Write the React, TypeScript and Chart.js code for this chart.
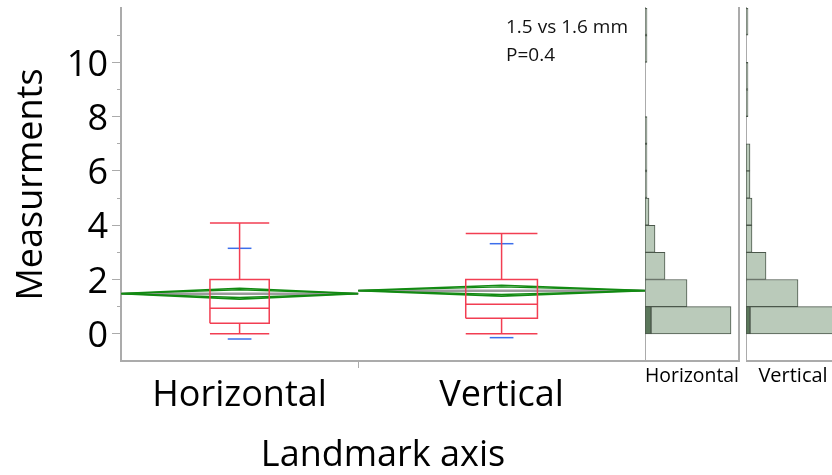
import React, { useEffect, useRef } from 'react';
import { Chart, registerables } from 'chart.js';

Chart.register(...registerables);

// ---------- data ----------
const categories = ['Horizontal', 'Vertical'];
const sampleSizes = [86, 104];
const means = [1.48, 1.59];
const ciLower = [1.28, 1.39];
const ciUpper = [1.68, 1.79];
const stdDevs = [1.67, 1.73];
const q1s = [0.39, 0.57];
const medians = [0.94, 1.09];
const q3s = [2.0, 2.0];
const whiskerLow = [0, 0];
const whiskerHigh = [4.08, 3.7];

const yMajorTicks = [0, 2, 4, 6, 8, 10];
const yMinorTicks = [1, 3, 5, 7, 9, 11];

const binStarts = [0, 1, 2, 3, 4, 5, 6, 7, 8, 9, 10, 11];
const horizontalCounts = [43, 21, 10, 5, 2, 1, 1, 1, 0, 0, 1, 1];
const horizontalSelected = [3, 0, 0, 0, 0, 0, 0, 0, 0, 0, 0, 0];
const verticalCounts = [55, 26, 10, 3, 3, 2, 2, 0, 1, 1, 0, 1];
const verticalSelected = [2, 0, 0, 0, 0, 0, 0, 0, 0, 0, 0, 0];

const annotationLines = ['1.5 vs 1.6 mm', 'P=0.4'];
const xTitle = 'Landmark axis';
const yTitle = 'Measurments';

// ---------- style ----------
const FONT = "'Open Sans', 'Noto Sans', sans-serif";
const AXIS_GREY = '#ababab';
const RED = 'rgb(242,62,82)';
const BLUE = 'rgb(60,110,235)';
const GREEN = 'rgb(18,138,18)';
const MEAN_GREY = 'rgb(155,155,155)';
const HIST_FILL = '#bacaba';
const HIST_DARK = '#5b775b';
const HIST_BORDER = '#4b574b';
const Y_MIN = -1;
const Y_MAX = 12;
const HIST_MAX = 47;

Chart.defaults.font.family = FONT;
Chart.defaults.color = '#000';

const noPad = (axis: any) => {
  axis.paddingTop = 0;
  axis.paddingBottom = 0;
  axis.paddingLeft = 0;
  axis.paddingRight = 0;
};

const annotationPlugin = {
  id: 'annotText',
  afterDatasetsDraw(chart: any) {
    const { ctx, chartArea } = chart;
    ctx.save();
    ctx.font = `19px ${FONT}`;
    ctx.fillStyle = '#111';
    ctx.textBaseline = 'alphabetic';
    ctx.textAlign = 'left';
    annotationLines.forEach((t, i) => {
      ctx.fillText(t, chartArea.right - 139, chartArea.top + 25 + i * 28);
    });
    ctx.restore();
  },
};

function MainChart() {
  const ref = useRef<HTMLCanvasElement>(null);
  useEffect(() => {
    if (!ref.current) return;
    const starts: number[] = [];
    let acc = 0;
    sampleSizes.forEach((n) => {
      starts.push(acc);
      acc += n;
    });
    const total = acc;
    const centers = starts.map((s, i) => s + sampleSizes[i] / 2);

    const seg = (pts: number[][], color: string, width: number, order: number) => ({
      data: pts.map(([x, y]) => ({ x, y })),
      showLine: true,
      borderColor: color,
      backgroundColor: color,
      borderWidth: width,
      pointRadius: 0,
      pointHoverRadius: 0,
      fill: false,
      tension: 0,
      order,
    });

    const datasets: any[] = [];
    categories.forEach((_, i) => {
      const n = sampleSizes[i];
      const x0 = starts[i];
      const x1 = x0 + n;
      const xc = centers[i];
      const bl = xc - n * 0.125;
      const br = xc + n * 0.125;
      const m = means[i];
      const hu = ciUpper[i] - m;
      const hl = m - ciLower[i];
      datasets.push(seg([[x0, m], [x1, m]], MEAN_GREY, 2.5, 5));
      datasets.push(seg([[x0, m], [xc, ciUpper[i]], [x1, m], [xc, ciLower[i]], [x0, m]], GREEN, 1.6, 4));
      datasets.push(seg([[x0, m], [xc, m + hu * 0.707], [x1, m], [xc, m - hl * 0.707], [x0, m]], GREEN, 1.4, 4));
      datasets.push(seg([[bl, q1s[i]], [bl, q3s[i]], [br, q3s[i]], [br, q1s[i]], [bl, q1s[i]]], RED, 1.5, 1));
      datasets.push(seg([[bl, medians[i]], [br, medians[i]]], RED, 1.5, 1));
      datasets.push(seg([[xc, q3s[i]], [xc, whiskerHigh[i]]], RED, 1.5, 1));
      datasets.push(seg([[bl, whiskerHigh[i]], [br, whiskerHigh[i]]], RED, 1.5, 1));
      datasets.push(seg([[xc, q1s[i]], [xc, whiskerLow[i]]], RED, 1.5, 1));
      datasets.push(seg([[bl, whiskerLow[i]], [br, whiskerLow[i]]], RED, 1.5, 1));
      datasets.push(seg([[xc - 4.3, m + stdDevs[i]], [xc + 4.3, m + stdDevs[i]]], BLUE, 1.5, 2));
      datasets.push(seg([[xc - 4.3, m - stdDevs[i]], [xc + 4.3, m - stdDevs[i]]], BLUE, 1.5, 2));
    });

    const boundaries = starts.slice(1);
    const xTickValues = [...centers, ...boundaries].sort((a, b) => a - b);

    const chart = new Chart(ref.current, {
      type: 'scatter',
      data: { datasets },
      plugins: [annotationPlugin],
      options: {
        animation: false,
        responsive: false,
        events: [],
        layout: { padding: { top: 8, left: 0, right: 0, bottom: 0 } },
        plugins: { legend: { display: false }, tooltip: { enabled: false } },
        scales: {
          x: {
            type: 'linear',
            min: 0,
            max: total,
            afterBuildTicks: (axis: any) => {
              axis.ticks = xTickValues.map((v) => ({ value: v }));
            },
            afterFit: (axis: any) => {
              axis.height = 114;
              noPad(axis);
            },
            ticks: {
              autoSkip: false,
              maxRotation: 0,
              padding: 10,
              font: { size: 36, lineHeight: 1 },
              color: '#000',
              callback: (v: any) => {
                const idx = centers.findIndex((c) => Math.abs(c - Number(v)) < 1e-6);
                return idx >= 0 ? categories[idx] : '';
              },
            },
            grid: {
              drawOnChartArea: false,
              tickLength: 7,
              tickColor: (ctx: any) =>
                ctx.tick && boundaries.some((b) => Math.abs(b - ctx.tick.value) < 1e-6) ? AXIS_GREY : 'rgba(0,0,0,0)',
            },
            border: { color: AXIS_GREY, width: 2 },
            title: {
              display: true,
              text: xTitle,
              font: { size: 36, lineHeight: 1 },
              color: '#000',
              padding: { top: 0, bottom: 1 },
            },
          },
          y: {
            type: 'linear',
            position: 'left',
            weight: 1,
            min: Y_MIN,
            max: Y_MAX,
            afterBuildTicks: (axis: any) => {
              axis.ticks = yMajorTicks.map((v) => ({ value: v }));
            },
            afterFit: (axis: any) => {
              axis.width = 121;
              noPad(axis);
            },
            ticks: {
              padding: 4,
              labelOffset: 3,
              font: { size: 36, lineHeight: 1 },
              color: '#000',
            },
            grid: { drawOnChartArea: false, tickLength: 9, tickColor: AXIS_GREY },
            border: { color: AXIS_GREY, width: 2 },
            title: {
              display: true,
              text: yTitle,
              font: { size: 36, lineHeight: 1 },
              color: '#000',
              padding: { top: 14, bottom: 0 },
            },
          },
          yMinor: {
            type: 'linear',
            position: 'left',
            weight: 0,
            min: Y_MIN,
            max: Y_MAX,
            afterBuildTicks: (axis: any) => {
              axis.ticks = yMinorTicks.map((v) => ({ value: v }));
            },
            afterFit: (axis: any) => {
              axis.width = 0;
              noPad(axis);
            },
            ticks: { display: false },
            grid: { drawOnChartArea: false, tickLength: 4, tickColor: AXIS_GREY },
            border: { display: false },
          },
        },
      } as any,
    });
    return () => chart.destroy();
  }, []);
  return (
    <canvas
      ref={ref}
      width={645}
      height={475}
      style={{ position: 'absolute', left: 0, top: 0, width: 645, height: 475 }}
    />
  );
}

function HistChart({ counts, selected, label, left }: { counts: number[]; selected: number[]; label: string; left: number }) {
  const ref = useRef<HTMLCanvasElement>(null);
  useEffect(() => {
    if (!ref.current) return;
    const centersY = binStarts.map((b) => b + 0.5);
    const barStyle = {
      borderColor: HIST_BORDER,
      borderWidth: 1,
      borderSkipped: false,
      barPercentage: 1,
      categoryPercentage: 1,
    };
    const chart = new Chart(ref.current, {
      type: 'bar',
      data: {
        datasets: [
          {
            data: centersY.map((y, i) => ({ x: selected[i], y })),
            backgroundColor: HIST_DARK,
            ...barStyle,
          },
          {
            data: centersY.map((y, i) => ({ x: counts[i] - selected[i], y })),
            backgroundColor: HIST_FILL,
            ...barStyle,
          },
        ],
      },
      options: {
        animation: false,
        responsive: false,
        events: [],
        indexAxis: 'y',
        layout: { padding: { top: 8, left: 0, right: 6, bottom: 0 } },
        plugins: { legend: { display: false }, tooltip: { enabled: false } },
        scales: {
          x: {
            type: 'linear',
            min: 0,
            max: HIST_MAX,
            stacked: true,
            afterFit: (axis: any) => {
              axis.height = 114;
              noPad(axis);
            },
            ticks: { display: false },
            grid: { display: false },
            border: { color: AXIS_GREY, width: 2 },
            title: {
              display: true,
              text: label,
              font: { size: 20, lineHeight: 1 },
              color: '#000',
              padding: { top: 0, bottom: 89 },
            },
          },
          y: {
            type: 'linear',
            position: 'left',
            min: Y_MIN,
            max: Y_MAX,
            offset: false,
            stacked: true,
            afterFit: (axis: any) => {
              axis.width = 0;
              noPad(axis);
            },
            ticks: { display: false },
            grid: { display: false, offset: false },
            border: { color: AXIS_GREY, width: 2 },
          },
          yR: {
            type: 'linear',
            position: 'right',
            min: Y_MIN,
            max: Y_MAX,
            offset: false,
            afterFit: (axis: any) => {
              axis.width = 0;
              noPad(axis);
            },
            ticks: { display: false },
            grid: { display: false },
            border: { color: AXIS_GREY, width: 2 },
          },
        },
      } as any,
    });
    return () => chart.destroy();
  }, []);
  return (
    <canvas
      ref={ref}
      width={100}
      height={475}
      style={{ position: 'absolute', left, top: 0, width: 100, height: 475 }}
    />
  );
}

export default function App() {
  return (
    <div
      style={{
        position: 'fixed',
        left: 0,
        top: 0,
        width: 832,
        height: 475,
        overflow: 'hidden',
        background: '#fff',
      }}
    >
      <MainChart />
      <HistChart counts={horizontalCounts} selected={horizontalSelected} label={categories[0]} left={645} />
      <HistChart counts={verticalCounts} selected={verticalSelected} label={categories[1]} left={746} />
    </div>
  );
}
